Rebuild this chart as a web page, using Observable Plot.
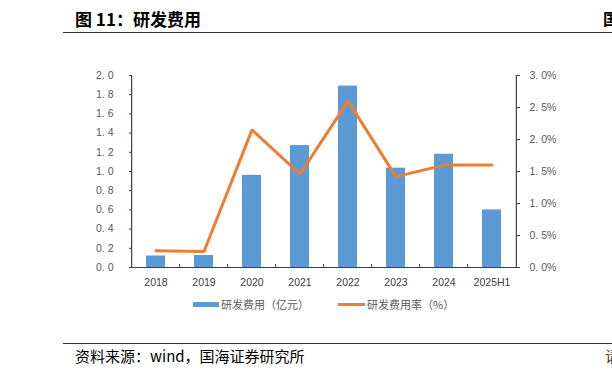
<!DOCTYPE html>
<html>
<head>
<meta charset="utf-8">
<script src="https://cdn.jsdelivr.net/npm/d3@7"></script>
<script src="https://cdn.jsdelivr.net/npm/@observablehq/plot@0.6"></script>
<style>
  html, body { margin: 0; padding: 0; background: #fff; width: 612px; height: 379px; overflow: hidden; }
  body { position: relative; font-family: "Noto Sans CJK SC", "Liberation Sans", sans-serif; }
  .abs { position: absolute; white-space: nowrap; }
</style>
</head>
<body>
<div class="abs" style="left:75px; top:6px; font-size:17px; font-weight:bold; color:#000;">图 11：研发费用</div>
<div class="abs" style="left:603px; top:6px; font-size:16px; font-weight:bold; color:#000;">国</div>
<div class="abs" style="left:63px; top:32px; width:549px; height:1px; background:#333;"></div>
<div id="chart" class="abs" style="left:0; top:40px;"></div>
<div id="legend" class="abs" style="left:0; top:296px; width:612px; height:18px; font-size:11px; color:#595959;"></div>
<div class="abs" style="left:63px; top:343px; width:549px; height:1px; background:#333;"></div>
<div class="abs" style="left:75px; top:345px; font-size:15px; color:#000;">资料来源：wind，国海证券研究所</div>
<div class="abs" style="left:605px; top:345px; font-size:14.5px; color:#333;">请</div>
<script>
const categories = ["2018", "2019", "2020", "2021", "2022", "2023", "2024", "2025H1"];
const rdExpense = [0.12, 0.125, 0.96, 1.27, 1.89, 1.035, 1.18, 0.60];   // 亿元
const rdRate = [0.26, 0.25, 2.15, 1.46, 2.60, 1.42, 1.60, 1.60];         // %
const leftTicks = [0, 0.2, 0.4, 0.6, 0.8, 1.0, 1.2, 1.4, 1.6, 1.8, 2.0];
const leftTickLabels = ["0. 0", "0. 2", "0. 4", "0. 6", "0. 8", "1. 0", "1. 2", "1. 4", "1. 6", "1. 8", "2. 0"];
const rightTicks = [0, 0.5, 1.0, 1.5, 2.0, 2.5, 3.0];
const rightTickLabels = ["0. 0%", "0. 5%", "1. 0%", "1. 5%", "2. 0%", "2. 5%", "3. 0%"];
const seriesNames = ["研发费用（亿元）", "研发费用率（%）"];
const colors = ["#5B9BD5", "#ED7D31"];

const leftMax = 2, rightMax = 3;
const toLeft = v => v * leftMax / rightMax;
const data = categories.map((c, i) => ({cat: c, exp: rdExpense[i], rate: rdRate[i]}));

const W = 612, H = 250, mL = 129, mR = 93, mT = 35, mB = 23;
const step = (W - mL - mR) / categories.length;
const axisColor = "#404040";
const labelColor = "#595959";

const chart = Plot.plot({
  width: W, height: H,
  marginLeft: mL, marginRight: mR, marginTop: mT, marginBottom: mB,
  style: {fontFamily: "'Liberation Sans', Arial, sans-serif", fontSize: "10.5px", color: labelColor, background: "transparent"},
  x: {domain: categories, type: "band", paddingInner: 0.6, paddingOuter: 0.3, label: null},
  y: {domain: [0, leftMax], label: null},
  marks: [
    Plot.barY(data, {x: "cat", y: "exp", fill: colors[0]}),
    Plot.line(data, {x: "cat", y: d => toLeft(d.rate), stroke: colors[1], strokeWidth: 3, strokeLinejoin: "miter"}),
    Plot.ruleY([0], {stroke: axisColor, strokeWidth: 1.2}),
    Plot.ruleX([categories[0]], {dx: -step / 2, y1: 0, y2: leftMax, stroke: axisColor, strokeWidth: 1.2}),
    Plot.ruleX([categories[categories.length - 1]], {dx: step / 2, y1: 0, y2: leftMax, stroke: axisColor, strokeWidth: 1.2}),
    Plot.ruleX(categories.slice(1), {dx: -step / 2, y1: 0, y2: 3 / ((H - mT - mB) / leftMax), stroke: axisColor}),
    Plot.axisY(leftTicks, {anchor: "left", tickSize: 3, dx: 3, tickFormat: () => "", stroke: axisColor}),
    Plot.axisY(leftTicks, {anchor: "left", tickSize: 0, tickPadding: 16, tickFormat: (d, i) => leftTickLabels[i], fill: labelColor}),
    Plot.axisY(rightTicks.map(toLeft), {anchor: "right", tickSize: 3, dx: -3, tickFormat: () => "", stroke: axisColor}),
    Plot.axisY(rightTicks.map(toLeft), {anchor: "right", tickSize: 0, tickPadding: 10, tickFormat: (d, i) => rightTickLabels[i], fill: labelColor}),
    Plot.axisX({tickSize: 0, tickPadding: 11, fill: "#404040"})
  ]
});
document.getElementById("chart").appendChild(chart);

const legend = document.getElementById("legend");
legend.innerHTML = `
  <div class="abs" style="left:193px; top:6px; width:26px; height:5px; background:${colors[0]};"></div>
  <div class="abs" style="left:221px; top:0px; line-height:16px;">${seriesNames[0]}</div>
  <div class="abs" style="left:338px; top:7px; width:27px; height:3px; background:${colors[1]};"></div>
  <div class="abs" style="left:367px; top:0px; line-height:16px;">${seriesNames[1]}</div>
`;
</script>
</body>
</html>
